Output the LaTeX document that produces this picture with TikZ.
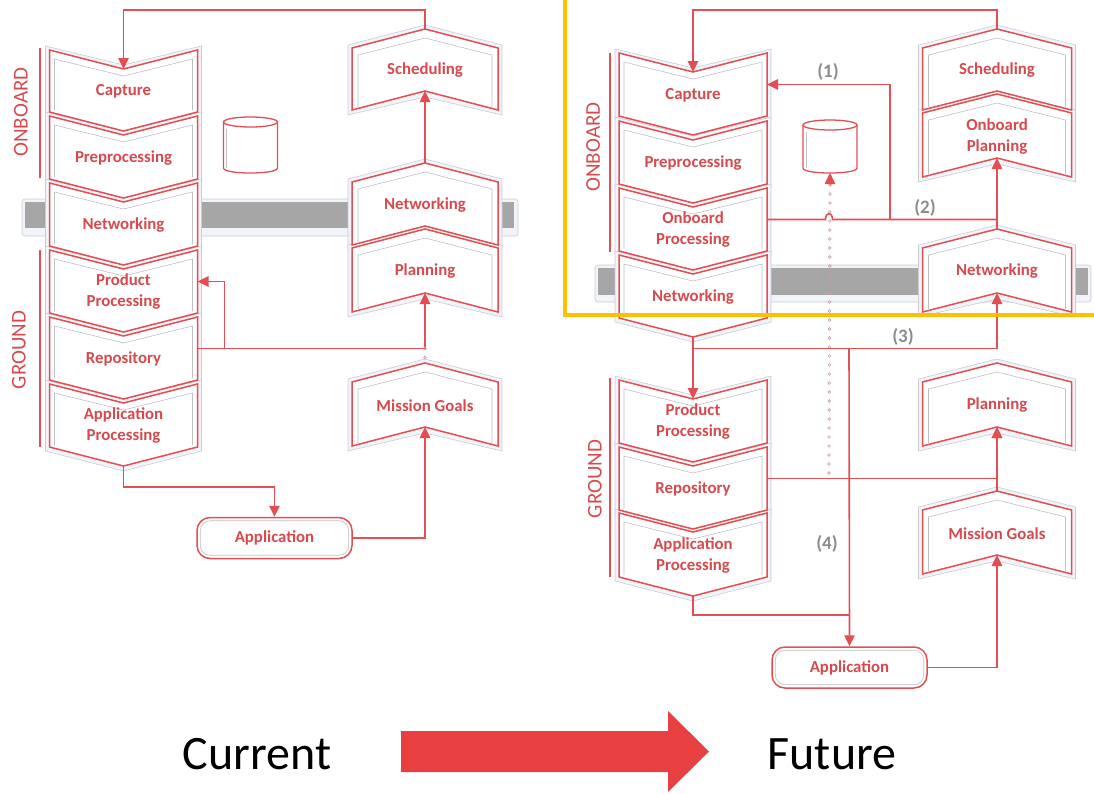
\documentclass[tikz,border=0pt]{standalone}
\usepackage{fontspec}
\setmainfont{Carlito}
\usetikzlibrary{arrows.meta,calc,decorations.markings}
\pgfdeclarelayer{band}
\pgfdeclarelayer{glow}
\pgfsetlayers{band,glow,main}

\definecolor{lred}{RGB}{226,78,82}
\definecolor{tred}{RGB}{214,74,78}
\definecolor{glowline}{RGB}{200,204,212}
\definecolor{glowfill}{RGB}{241,244,249}
\definecolor{inline}{RGB}{192,192,192}
\definecolor{bandgray}{RGB}{166,166,166}
\definecolor{lblgray}{RGB}{140,140,140}
\definecolor{gold}{RGB}{255,192,0}
\definecolor{bigred}{RGB}{232,64,64}
\definecolor{dotc}{RGB}{200,160,162}

\tikzset{
  chev/.style={fill=white, draw=lred, line width=1.5pt, line join=miter},
  chglow/.style={fill=glowfill, draw=glowline, line width=0.6pt},
  chin/.style={draw=inline, line width=0.6pt},
  chtext/.style={text=tred, font=\fontsize{16.8}{21}\selectfont\bfseries, align=center, inner sep=0pt},
  conn/.style={draw=lred, line width=1.6pt},
  arr/.style={-{Triangle[length=11pt,width=10.5pt]}},
  appbox/.style={rounded corners=13pt, minimum width=155pt, minimum height=41pt, draw=lred, line width=1.5pt, fill=white, text=tred, font=\fontsize{16.8}{20}\selectfont\bfseries},
  sidelbl/.style={text=tred, font=\fontsize{21}{24}\selectfont, rotate=90, inner sep=0pt},
  sidebar/.style={draw=lred, line width=1.5pt},
  numlbl/.style={text=lblgray, font=\fontsize{19}{22}\selectfont\bfseries, inner sep=0pt},
  bigtext/.style={text=black, font=\fontsize{48}{56}\selectfont, inner sep=0pt},
  dotline/.style={decoration={markings, mark=between positions 0 and 1 step 9pt with {\draw[draw=dotc, line width=0.6pt] (0,0) circle (1.4pt);}}, decorate},
}

% downward chevron: name, centre x, top corner y, width, height, label
\newcommand{\chevD}[6]{%
  \pgfmathsetmacro\chxl{#2-#4/2}%
  \pgfmathsetmacro\chxr{#2+#4/2}%
  \pgfmathsetmacro\chyb{#3+#5}%
  \begin{pgfonlayer}{glow}
    \draw[chglow] (\chxl-4,#3-4) -- (#2,#3+15) -- (\chxr+4,#3-4) -- (\chxr+4,\chyb+4) -- (#2,\chyb+24) -- (\chxl-4,\chyb+4) -- cycle;
  \end{pgfonlayer}
  \draw[chev] (\chxl,#3) -- (#2,#3+19) -- (\chxr,#3) -- (\chxr,\chyb) -- (#2,\chyb+19) -- (\chxl,\chyb) -- cycle;
  \draw[chin] (\chxl+5,\chyb-2) -- (\chxl+5,#3+9) -- (#2,#3+26) -- (\chxr-5,#3+9) -- (\chxr-5,\chyb-2);
  \coordinate (#1-n) at (#2,#3+19);
  \coordinate (#1-s) at (#2,\chyb+19);
  \coordinate (#1-E) at (\chxr,#3+#5/2);
  \node[chtext] (#1) at (#2,#3+#5/2+10.5) {#6};
}

% upward chevron: name, centre x, top corner y, width, height, label
\newcommand{\chevU}[6]{%
  \pgfmathsetmacro\chxl{#2-#4/2}%
  \pgfmathsetmacro\chxr{#2+#4/2}%
  \pgfmathsetmacro\chyb{#3+#5}%
  \begin{pgfonlayer}{glow}
    \draw[chglow] (\chxl-4,#3-3) -- (#2,#3-23) -- (\chxr+4,#3-3) -- (\chxr+4,\chyb+5) -- (#2,\chyb-13) -- (\chxl-4,\chyb+5) -- cycle;
  \end{pgfonlayer}
  \draw[chev] (\chxl,#3) -- (#2,#3-19) -- (\chxr,#3) -- (\chxr,\chyb) -- (#2,\chyb-19) -- (\chxl,\chyb) -- cycle;
  \draw[chin] (\chxl+6,\chyb-3) -- (\chxl+6,#3+7) -- (#2,#3-10) -- (\chxr-6,#3+7) -- (\chxr-6,\chyb-3);
  \coordinate (#1-n) at (#2,#3-19);
  \coordinate (#1-s) at (#2,\chyb-19);
  \node[chtext] (#1) at (#2,#3+#5/2-8.5) {#6};
}

% database cylinder: name, centre x, top ellipse y, bottom ellipse y
\newcommand{\dbcyl}[4]{%
  \draw[lred, line width=1.3pt, fill=white] (#2-27,#3) -- (#2-27,#4) .. controls (#2-27,#4+6.7) and (#2+27,#4+6.7) .. (#2+27,#4) -- (#2+27,#3);
  \draw[lred, line width=1.3pt, fill=white] (#2,#3) ellipse [x radius=27, y radius=5];
  \draw[chin] (#2-24,#3+7) -- (#2-24,#4);
  \coordinate (#1-s) at (#2,#4+5);
  \node[inner sep=0pt, minimum width=54pt, minimum height=56pt] (#1) at (#2,#3/2+#4/2) {};
}

\begin{document}
\begin{tikzpicture}[x=1pt, y=-1pt]
\useasboundingbox (0,0) rectangle (1094,793);

% ---------------- grey link bands ----------------
\begin{pgfonlayer}{band}
  \draw[glowline, line width=0.6pt, fill=glowfill, rounded corners=3pt] (22,199) rectangle (518,236);
  \fill[bandgray] (25,202) rectangle (514,228);
  \draw[glowline, line width=0.6pt, fill=glowfill, rounded corners=3pt] (595,265) rectangle (1091,302);
  \fill[bandgray] (598,268) rectangle (1088,295);
\end{pgfonlayer}

% ================= current architecture =================
\chevD{Lcap}{123.5}{50}{148}{62}{Capture}
\chevD{Lpre}{123.5}{116}{148}{63}{Preprocessing}
\chevD{Lnet}{123.5}{183}{148}{63}{Networking}
\chevD{Lpp}{123.5}{250}{148}{63}{Product\\Processing}
\chevD{Lrep}{123.5}{317}{148}{63}{Repository}
\chevD{Lapp}{123.5}{384}{148}{63}{Application\\Processing}

\chevU{Lsch}{425}{48}{146}{62}{Scheduling}
\chevU{Lnet2}{425}{182}{146}{63}{Networking}
\chevU{Lpln}{425}{248}{146}{64}{Planning}
\chevU{Lmg}{425}{382}{146}{64}{Mission Goals}

\dbcyl{Lcyl}{250.5}{122}{168}

\node[appbox] (Lappl) at (274.5,538) {Application};
\draw[chin, rounded corners=10pt] ($(Lappl.south west)+(4,-4)$) rectangle ($(Lappl.north east)+(-4,4)$);

\node[sidelbl] (Lob) at (21,112) {ONBOARD};
\node[sidelbl] (Lgr) at (19,350) {GROUND};
\draw[sidebar] (40,48) -- (40,178);
\draw[sidebar] (40,250) -- (40,447);

\draw[conn, arr] (Lsch-n) -- ++(0,-19) -| (Lcap-n);
\draw[conn, arr] (Lnet2-n) -- (Lsch-s);
\draw[conn, arr] (Lrep-E) -- ++(27,0) |- (Lpp-E);
\draw[conn, arr] (Lrep-E) -| (Lpln-s);
\path[dotline] (Lpln-s |- Lrep-E) -- (Lmg-n);
\draw[conn, arr] (Lapp-s) -- ++(0,21) -| (Lappl.north);
\draw[conn, arr] (Lappl.east) -| (Lmg-s);

% ================= future architecture =================
\chevD{Rcap}{693}{53}{148}{63}{Capture}
\chevD{Rpre}{693}{121}{148}{63}{Preprocessing}
\chevD{Ropp}{693}{188}{148}{63}{Onboard\\Processing}
\chevD{Rnet}{693}{255}{148}{63}{Networking}
\chevD{Rpp}{693}{380}{148}{63}{Product\\Processing}
\chevD{Rrep}{693}{447}{148}{63}{Repository}
\chevD{Rapp}{693}{513}{148}{64}{Application\\Processing}

\chevU{Rsch}{997}{48}{149}{62}{Scheduling}
\chevU{Ropl}{997}{113}{149}{64}{Onboard\\Planning}
\chevU{Rnet2}{997}{248}{149}{64}{Networking}
\chevU{Rpln}{997}{382}{149}{64}{Planning}
\chevU{Rmg}{997}{510}{149}{64}{Mission Goals}

\dbcyl{Rcyl}{830}{125}{168}

\node[appbox] (Rappl) at (849.5,667.5) {Application};
\draw[chin, rounded corners=10pt] ($(Rappl.south west)+(4,-4)$) rectangle ($(Rappl.north east)+(-4,4)$);

\node[sidelbl] (Rob) at (593,147) {ONBOARD};
\node[sidelbl] (Rgr) at (595,479) {GROUND};
\draw[sidebar] (610,53) -- (610,252);
\draw[sidebar] (610,378) -- (610,577);

% junction points of the link buses
\coordinate (Rj1) at (890,219.5);
\coordinate (Rhopa) at (825.5,219.5);
\coordinate (Rhopb) at (832.5,219.5);
\coordinate (Rbus) at (693,348.5);
\coordinate (Rj4) at (849,348.5);
\coordinate (Rj5) at (849,615);
\coordinate (Rdot0) at (829,473);

% stored data flow to the onboard store
\path[dotline] (Rdot0) -- (Rcyl-s);
\draw[conn, arr, line width=1pt] ($(Rcyl-s)+(0,12)$) -- (Rcyl-s);

\draw[conn, arr] (Rsch-n) -- ++(0,-19) -| (Rcap-n);
\draw[conn] (Ropp-E) -- (Rhopa) .. controls +(0,-8) and +(0,-8) .. (Rhopb) -- (Rnet2-n |- Ropp-E);
\draw[conn, arr] (Rj1) |- (Rcap-E);
\draw[conn, arr] (Rnet2-n) -- (Ropl-s);
\draw[conn, arr] (Rnet-s) -- (Rpp-n);
\draw[conn, arr] (Rbus) -| (Rnet2-s);
\draw[conn, arr] (Rj4) -- (Rappl.north);
\draw[conn, arr] (Rrep-E) -| (Rpln-s);
\draw[conn, arr] (Rmg-n) -- (Rpln-s);
\draw[conn] (Rapp-s) |- (Rj5);
\draw[conn, arr] (Rappl.east) -| (Rmg-s);

\node[numlbl] (n1) at (828,72) {(1)};
\node[numlbl] (n2) at (925,207.5) {(2)};
\node[numlbl] (n3) at (903,337) {(3)};
\node[numlbl] (n4) at (827,544) {(4)};

% onboard scope frame
\draw[gold, line width=4pt] (565,-5) -- (565,315) -- (1100,315);

% ================= transition =================
\node[bigtext] (cur) at (257,754) {Current};
\node[bigtext] (fut) at (832,754) {Future};
\fill[bigred] (401,731) -- (668,731) -- (668,711) -- (709,751.5) -- (668,792) -- (668,772) -- (401,772) -- cycle;

\end{tikzpicture}
\end{document}
